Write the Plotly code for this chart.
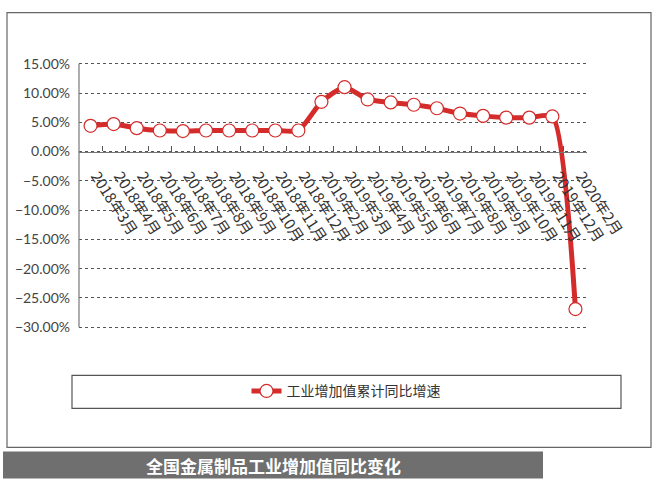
import plotly.graph_objects as go

# 类别与数值
months = ["2018年3月", "2018年4月", "2018年5月", "2018年6月", "2018年7月",
          "2018年8月", "2018年9月", "2018年10月", "2018年11月", "2018年12月",
          "2019年2月", "2019年3月", "2019年4月", "2019年5月", "2019年6月",
          "2019年7月", "2019年8月", "2019年9月", "2019年10月", "2019年11月",
          "2019年12月", "2020年2月"]
growth = [4.4, 4.7, 4.0, 3.6, 3.5, 3.6, 3.6, 3.6, 3.6, 3.6,
          8.5, 11.0, 8.9, 8.4, 8.0, 7.4, 6.5, 6.1, 5.8, 5.8,
          6.0, -26.9]
series_name = "工业增加值累计同比增速"
title_text = "全国金属制品工业增加值同比变化"

W, H = 660, 488
L, R = 79, 587
Y_TOP, Y_BOT = 64, 327      # 15% 与 -30% 所在像素
Y_MAX, Y_MIN = 15, -30
PAD = 0.3
unit = (Y_BOT - Y_TOP) / (Y_MAX - Y_MIN)
T = Y_TOP - PAD * unit
B = Y_BOT + PAD * unit
RED = "#d42b2b"


def px(x, y):
    # 像素 -> paper 坐标
    return (x - L) / (R - L), (B - y) / (B - T)


def rect(x0, y0, x1, y1, **kw):
    a, b = px(x0, y1)
    c, d = px(x1, y0)
    return dict(type="rect", xref="paper", yref="paper",
                x0=a, y0=b, x1=c, y1=d, layer="below", **kw)


fig = go.Figure()
fig.add_trace(go.Scatter(
    x=months, y=growth, name=series_name, mode="lines+markers",
    line=dict(color=RED, width=5, shape="spline", smoothing=0.6),
    marker=dict(size=13, color="white", line=dict(color=RED, width=1.2)),
    showlegend=True,
))

lx, ly = px(346, 391)
tx, ty = px(273, 465)

fig.update_layout(
    width=W, height=H,
    margin=dict(l=L, r=W - R, t=T, b=H - B),
    paper_bgcolor="white", plot_bgcolor="white",
    font=dict(family="Noto Sans CJK SC", color="#333"),
    showlegend=True,
    legend=dict(x=lx, y=ly, xanchor="center", yanchor="middle",
                orientation="h", bgcolor="rgba(0,0,0,0)",
                font=dict(size=14, color="#333", family="Noto Sans CJK SC")),
    shapes=[
        rect(7, 13, 651, 447, line=dict(color="#666", width=1.2), fillcolor="rgba(0,0,0,0)"),
        rect(72, 375, 621, 408, line=dict(color="#555", width=1.2), fillcolor="rgba(0,0,0,0)"),
        rect(3, 451, 543, 478, line=dict(width=0), fillcolor="#6f6f6f"),
        # y 轴线只画在 -30% ~ 15% 之间
        dict(type="line", xref="paper", yref="y", x0=0, x1=0, y0=Y_MIN, y1=Y_MAX,
             line=dict(color="#777", width=1.2)),
    ],
    annotations=[dict(
        text=title_text, xref="paper", yref="paper", x=tx, y=ty,
        xanchor="center", yanchor="middle", showarrow=False,
        font=dict(size=17, color="white", family="Noto Sans CJK SC", weight="bold"),
    )],
)

fig.update_xaxes(
    type="category", range=[-0.5, len(months) - 0.5],
    anchor="free", position=(0 - (Y_MIN - PAD)) / (Y_MAX - Y_MIN + 2 * PAD),
    tickson="boundaries", ticks="inside", ticklen=5, tickcolor="#555",
    showline=True, linecolor="#777", linewidth=1.2,
    showgrid=False, tickangle=57, ticklabelstandoff=9, ticklabelshift=6,
    tickfont=dict(size=15, color="#333", family="Noto Sans CJK SC"),
)
fig.update_yaxes(
    range=[Y_MIN - PAD, Y_MAX + PAD], dtick=5, tick0=0,
    tickformat=".2f", ticksuffix="%",
    showline=False,
    showgrid=True, gridcolor="#555", griddash="dot", gridwidth=1,
    zeroline=False, ticks="", ticklabelstandoff=8,
    tickfont=dict(size=14, color="#444", family="Lato"),
)

fig.write_html("out.html", config={"displayModeBar": False},
               post_script="document.body.style.margin='0px';")
